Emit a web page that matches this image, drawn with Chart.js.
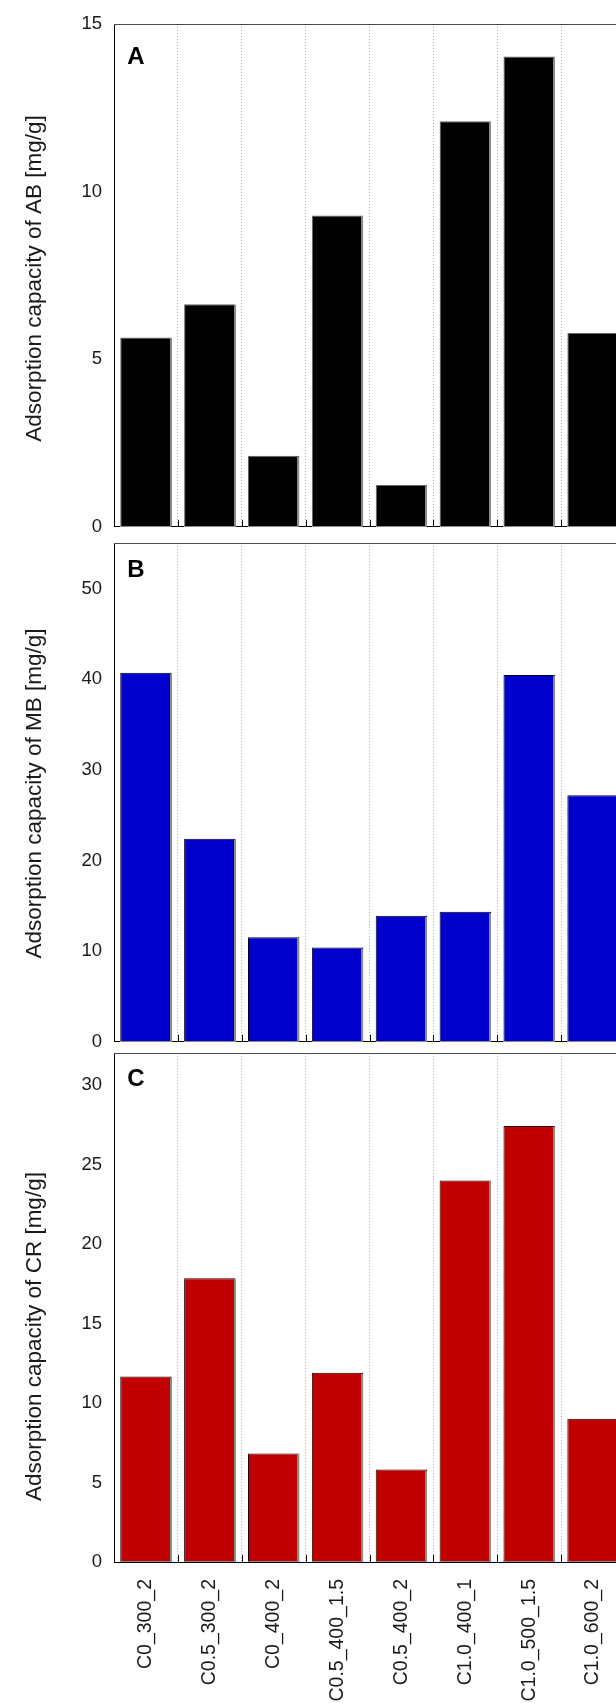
<!DOCTYPE html>
<html>
<head>
<meta charset="utf-8">
<script src="https://cdn.jsdelivr.net/npm/chart.js@4.4.1/dist/chart.umd.min.js"></script>
<style>
  html, body { margin: 0; padding: 0; background: #fff; overflow: hidden; }
  #wrap { position: relative; width: 616px; height: 1703px; overflow: hidden; background: #fff; }
  canvas { position: absolute; left: 0; }
</style>
</head>
<body>
<div id="wrap">
  <canvas id="panelA" width="640" height="550" style="top:0px"></canvas>
  <canvas id="panelB" width="640" height="545" style="top:520px"></canvas>
  <canvas id="panelC" width="640" height="673" style="top:1030px"></canvas>
</div>
<script>
// Sample names (carbon ratio _ temperature _ time)
const samples = ['C0_300_2', 'C0.5_300_2', 'C0_400_2', 'C0.5_400_1.5', 'C0.5_400_2', 'C1.0_400_1', 'C1.0_500_1.5', 'C1.0_600_2'];

// Adsorption capacities [mg/g]
const abCapacity = [5.65, 6.64, 2.12, 9.29, 1.25, 12.10, 14.03, 5.78];
const mbCapacity = [40.7, 22.4, 11.55, 10.4, 13.9, 14.35, 40.45, 27.2];
const crCapacity = [11.66, 17.84, 6.83, 11.9, 5.81, 23.99, 27.42, 9.01];

// Value-axis tick labels and upper limits
const abTicks = [0, 5, 10, 15];
const mbTicks = [0, 10, 20, 30, 40, 50];
const crTicks = [0, 5, 10, 15, 20, 25, 30];
const abMax = 15, mbMax = 55, crMax = 32;

const FONT = "'Liberation Sans', Arial, Helvetica, sans-serif";
Chart.defaults.font.family = FONT;
Chart.defaults.color = '#1a1a1a';

// Panel decorations: bar edge shading, inner ticks, frame top, letter and axis title
const panelDecor = {
  id: 'panelDecor',
  afterDatasetsDraw(chart, args, opts) {
    const { ctx, chartArea: a, scales: { x } } = chart;
    const meta = chart.getDatasetMeta(0);
    ctx.save();
    // grey shadow on the right edge and base of each bar
    ctx.fillStyle = '#8a8a8a';
    meta.data.forEach(bar => {
      const p = bar.getProps(['x', 'y', 'base', 'width'], true);
      const right = p.x + p.width / 2;
      ctx.fillRect(Math.round(right) - 2, Math.round(p.y) + 1, 2, Math.round(p.base - p.y) - 1);
      ctx.fillRect(Math.round(p.x - p.width / 2), Math.round(p.base) - 1, Math.round(p.width), 1);
    });
    // short inward ticks on the category boundaries
    ctx.strokeStyle = '#000';
    ctx.lineWidth = 1;
    const n = chart.data.labels.length;
    for (let i = 0; i < n - 1; i++) {
      const bx = Math.round((x.getPixelForValue(i) + x.getPixelForValue(i + 1)) / 2) + 0.5;
      ctx.beginPath();
      ctx.moveTo(bx, a.bottom);
      ctx.lineTo(bx, a.bottom - 7);
      ctx.stroke();
    }
    // top edge of the frame
    ctx.strokeStyle = '#4a4a4a';
    ctx.beginPath();
    ctx.moveTo(a.left, Math.round(a.top) + 0.5);
    ctx.lineTo(a.right, Math.round(a.top) + 0.5);
    ctx.stroke();
    // panel letter
    ctx.fillStyle = '#000';
    ctx.font = 'bold 24px ' + FONT;
    ctx.textAlign = 'center';
    ctx.textBaseline = 'middle';
    ctx.fillText(opts.letter, a.left + 22, a.top + opts.letterDy);
    // value-axis title
    ctx.fillStyle = '#1a1a1a';
    ctx.font = '22.5px ' + FONT;
    ctx.translate(35, (a.top + a.bottom) / 2 + opts.titleDy);
    ctx.rotate(-Math.PI / 2);
    ctx.fillText(opts.title, 0, 0);
    ctx.restore();
  }
};

function makePanel(id, values, ticks, maxVal, fill, edge, decor, pad, showLabels, xHeight) {
  return new Chart(document.getElementById(id), {
    type: 'bar',
    data: {
      labels: samples,
      datasets: [{
        data: values,
        backgroundColor: fill,
        borderColor: edge,
        borderWidth: 1,
        borderSkipped: 'start',
        barPercentage: 0.805,
        categoryPercentage: 1.0
      }]
    },
    options: {
      responsive: false,
      animation: false,
      events: [],
      layout: { padding: pad },
      plugins: {
        legend: { display: false },
        tooltip: { enabled: false },
        panelDecor: decor
      },
      scales: {
        x: {
          grid: { display: true, color: '#a8a8a8', lineWidth: 1, drawTicks: false, offset: true },
          border: { display: true, color: '#000', width: 1, dash: [1, 2] },
          ticks: {
            display: showLabels,
            autoSkip: false,
            minRotation: 90,
            maxRotation: 90,
            padding: 17,
            font: { size: 19.5 },
            color: '#1a1a1a'
          },
          afterFit: s => { s.height = xHeight; }
        },
        y: {
          min: 0,
          max: maxVal,
          grid: { display: false, drawTicks: false },
          border: { display: true, color: '#000', width: 1 },
          ticks: { padding: 12, font: { size: 18.5 }, color: '#1a1a1a' },
          afterBuildTicks: s => { s.ticks = ticks.map(v => ({ value: v })); },
          afterFit: s => { s.width = 114; }
        }
      }
    },
    plugins: [panelDecor]
  });
}

makePanel('panelA', abCapacity, abTicks, abMax, '#000000', '#666666',
  { letter: 'A', letterDy: 33, title: 'Adsorption capacity of AB [mg/g]', titleDy: 3 },
  { top: 24, bottom: 14, left: 0, right: 15 }, false, 0);

makePanel('panelB', mbCapacity, mbTicks, mbMax, '#0000cd', '#000022',
  { letter: 'B', letterDy: 27.5, title: 'Adsorption capacity of MB [mg/g]', titleDy: 1 },
  { top: 18, bottom: 15, left: 0, right: 15 }, false, 0);

makePanel('panelC', crCapacity, crTicks, crMax, '#c00000', '#220000',
  { letter: 'C', letterDy: 26, title: 'Adsorption capacity of CR [mg/g]', titleDy: 29 },
  { top: 22, bottom: 0, left: 0, right: 15 }, true, 141);
</script>
</body>
</html>
